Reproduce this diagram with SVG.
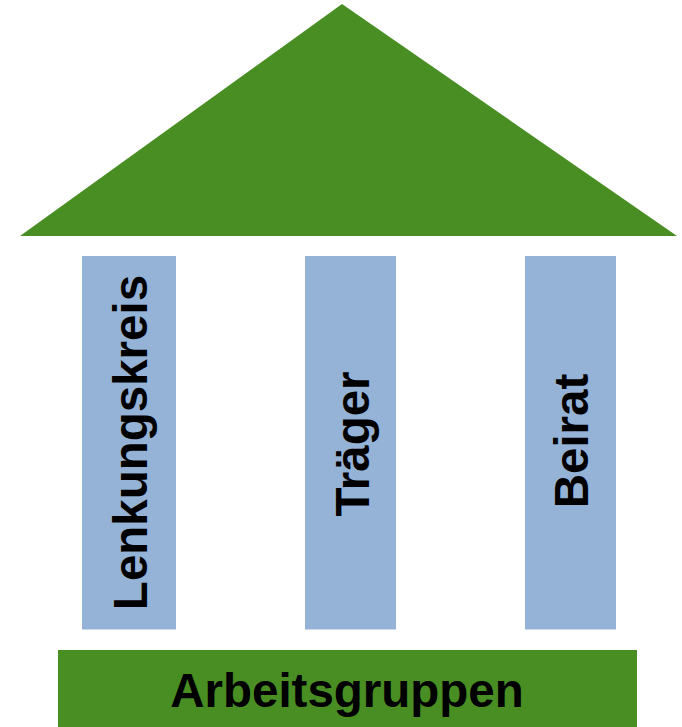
<svg xmlns="http://www.w3.org/2000/svg" width="682" height="727" viewBox="0 0 682 727">
<style>
.green{fill:#488E23}
.pillar{fill:#95B3D7}
.lbl{font-family:"Liberation Sans",Arial,sans-serif;font-weight:bold;font-size:47.5px;fill:#000;text-anchor:middle}
</style>
<rect width="682" height="727" fill="#fff"/>
<g id="roof"><polygon class="green" points="20,236 342,4 677,236"/></g>
<g id="lenkungskreis">
<rect class="pillar" x="82" y="256" width="94" height="373.5"/>
<text class="lbl" transform="translate(146.5,442.5) rotate(-90)">Lenkungskreis</text>
</g>
<g id="traeger">
<rect class="pillar" x="305" y="256" width="91" height="373.5"/>
<text class="lbl" transform="translate(369,444) rotate(-90)">Träger</text>
</g>
<g id="beirat">
<rect class="pillar" x="525" y="256" width="91" height="373.5"/>
<text class="lbl" transform="translate(588,441) rotate(-90)">Beirat</text>
</g>
<g id="arbeitsgruppen">
<rect class="green" x="58" y="650" width="579" height="77"/>
<text class="lbl" x="347" y="707">Arbeitsgruppen</text>
</g>
<g id="connectors"/>
</svg>
